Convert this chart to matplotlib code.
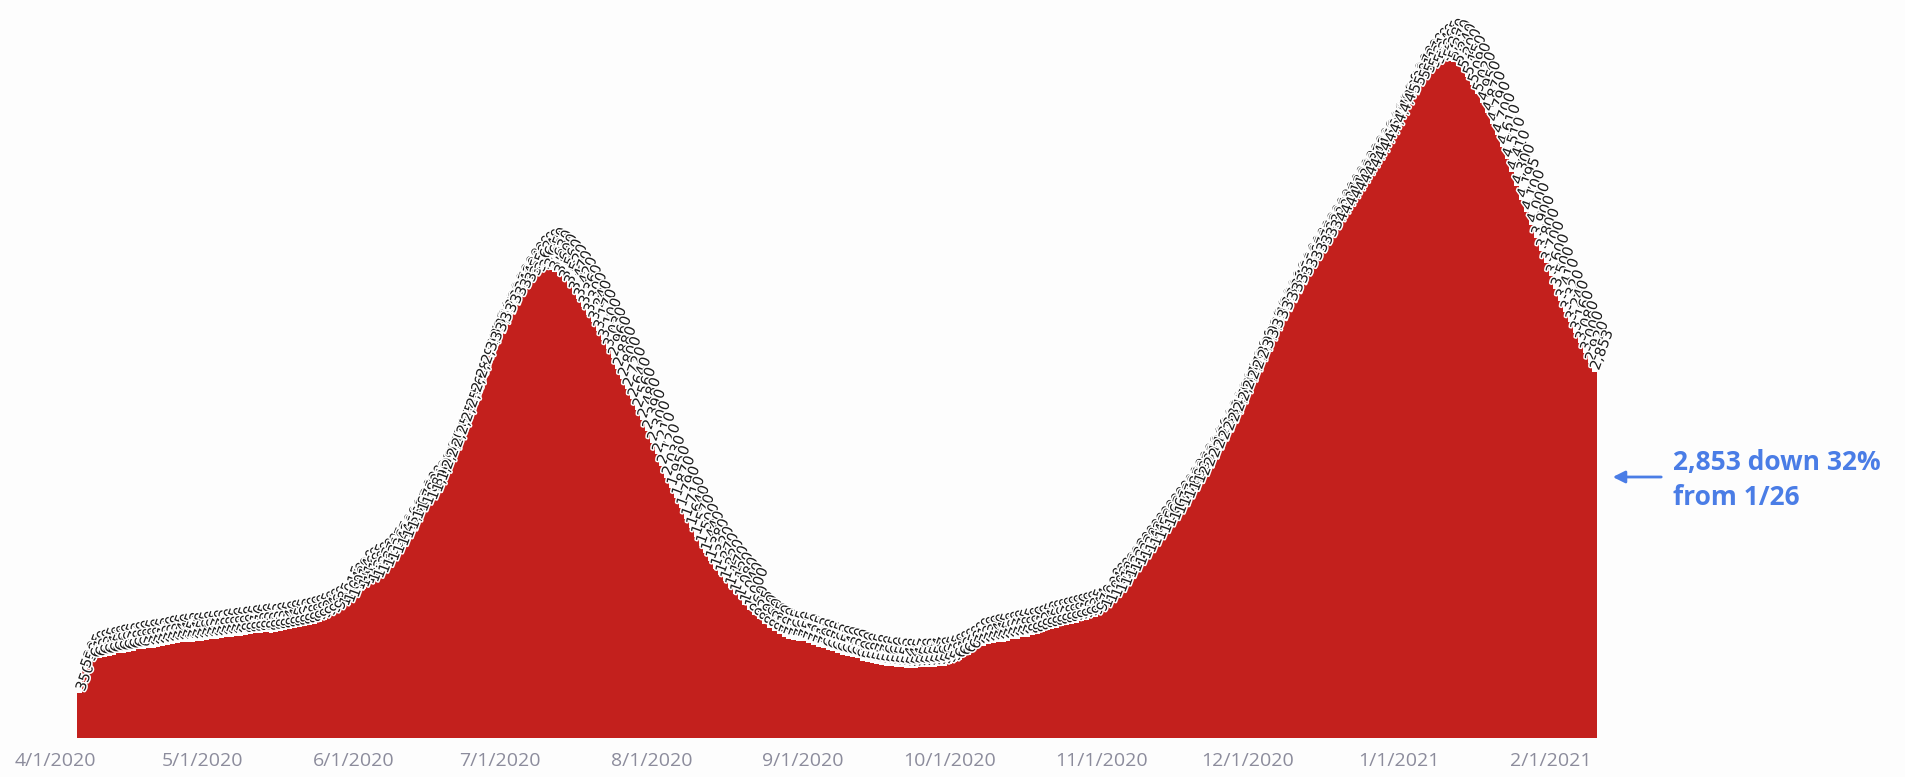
import matplotlib
matplotlib.use("Agg")
import matplotlib.pyplot as plt
import matplotlib.patheffects as pe
import matplotlib.dates as mdates
import pandas as pd

# daily values, 4/6/2020 .. 2/10/2021
apr = [350, 530, 585, 610, 620, 635, 640, 650, 660, 665, 672, 680, 690, 695, 700,
       705, 712, 720, 728, 735, 740, 745, 752, 748, 755]
may = [760, 765, 770, 772, 780, 785, 790, 795, 798, 805, 810, 815, 820, 825, 822,
       830, 835, 840, 848, 855, 862, 870, 880, 890, 905, 920, 940, 960, 985, 1015, 1040]
jun = [1080, 1140, 1160, 1185, 1200, 1230, 1270, 1315, 1365, 1420, 1480, 1540, 1610,
       1690, 1750, 1800, 1840, 1900, 1990, 2080, 2170, 2250, 2350, 2450, 2560, 2680,
       2790, 2900, 3000, 3080]
jul = [3150, 3230, 3300, 3370, 3430, 3490, 3540, 3590, 3620, 3640, 3650, 3630, 3600,
       3560, 3520, 3470, 3420, 3360, 3300, 3240, 3170, 3100, 3030, 2960, 2880, 2800,
       2720, 2640, 2560, 2480, 2390]
aug = [2300, 2210, 2120, 2030, 1950, 1870, 1790, 1710, 1640, 1570, 1500, 1440, 1380,
       1320, 1270, 1220, 1170, 1120, 1080, 1040, 1000, 960, 925, 890, 860, 835, 810,
       790, 775, 765, 760]
sep = [755, 740, 725, 712, 700, 688, 675, 662, 650, 640, 630, 620, 600, 590, 585, 578,
       570, 565, 560, 556, 552, 548, 545, 547, 550, 552, 554, 557, 560, 565]
oct_ = [575, 590, 610, 630, 650, 680, 710, 720, 730, 740, 745, 750, 760, 770, 775, 785,
        790, 800, 810, 825, 842, 850, 860, 870, 880, 890, 900, 910, 920, 935, 944]
nov = [970, 1000, 1040, 1080, 1120, 1170, 1232, 1280, 1330, 1380, 1430, 1480, 1530,
       1580, 1630, 1680, 1730, 1790, 1850, 1910, 1970, 2030, 2100, 2170, 2240, 2310,
       2380, 2450, 2530, 2610]
dec = [2700, 2780, 2860, 2940, 3020, 3100, 3180, 3250, 3320, 3390, 3460, 3530, 3590,
       3650, 3710, 3770, 3830, 3890, 3950, 4010, 4070, 4130, 4190, 4250, 4310, 4370,
       4430, 4490, 4560, 4630, 4700]
jan = [4780, 4860, 4940, 5010, 5070, 5120, 5170, 5210, 5240, 5265, 5280, 5270, 5240,
       5200, 5150, 5090, 5020, 4950, 4870, 4790, 4700, 4610, 4510, 4410, 4300, 4195,
       4100, 4000, 3900, 3800, 3700]
feb = [3600, 3500, 3410, 3320, 3240, 3160, 3080, 3000, 2920, 2853]

values = apr + may + jun + jul + aug + sep + oct_ + nov + dec + jan + feb
dates = pd.date_range("2020-04-06", periods=len(values), freq="D")

tick_dates = pd.date_range("2020-04-01", "2021-02-01", freq="MS")
tick_labels = [f"{d.month}/{d.day}/{d.year}" for d in tick_dates]

note = "2,853 down 32%\nfrom 1/26"

W, H = 1906, 777
left_px, right_px, px_per_day = 20, 1597, 4.885
red = "#c3201d"
fig = plt.figure(figsize=(W / 100, H / 100), dpi=100, facecolor="#fdfdfd")
ax = fig.add_axes([left_px / W, 39 / H, (right_px - left_px) / W, 738 / H])
ax.set_facecolor("#fdfdfd")

# bars slightly wider than a day so neighbouring bars never leave a seam
ax.bar(dates, values, width=1.15, color=red, linewidth=0, align="center")

for d, v in zip(dates, values):
    ax.text(d, v + 20, f"{v:,}", rotation=70, rotation_mode="anchor",
            ha="left", va="center", fontsize=10.5, color="#1e1e1e",
            path_effects=[pe.withStroke(linewidth=2.2, foreground="white")])

ax.set_xticks(tick_dates)
ax.set_xticklabels(tick_labels, fontsize=14, color="#8c8c9c", family="Open Sans")
x_right = mdates.date2num(dates[-1]) + 0.5
ax.set_xlim(x_right - (right_px - left_px) / px_per_day, x_right)
ax.set_ylim(0, 738 * 7.795)
ax.tick_params(axis="x", length=0, pad=10)
ax.set_yticks([])
for s in ax.spines.values():
    s.set_visible(False)

blue = "#4a7de6"
ax.annotate("", xy=(1610, H - 477), xytext=(1664, H - 477), xycoords="figure pixels",
            textcoords="figure pixels",
            arrowprops=dict(arrowstyle="-|>", color=blue, lw=2, mutation_scale=18))
fig.text(1673 / W, (H - 480) / H, note, color=blue, fontsize=19, fontweight="bold",
         family="Open Sans", ha="left", va="center", linespacing=1.35)

fig.savefig("out.png", dpi=100, facecolor=fig.get_facecolor())
